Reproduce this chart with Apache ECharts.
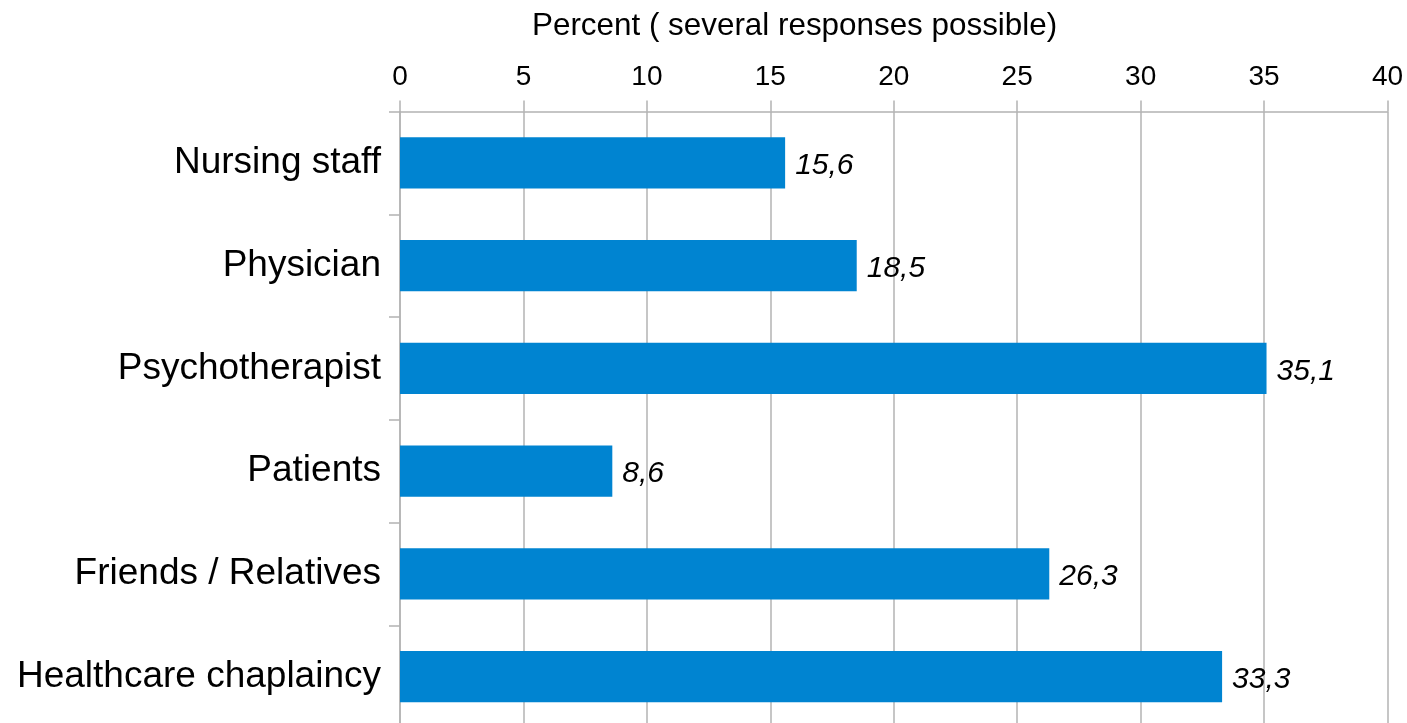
<!DOCTYPE html>
<html>
<head>
<meta charset="utf-8">
<title>Sources of support</title>
<script src="https://cdn.jsdelivr.net/npm/echarts@6/dist/echarts.min.js"></script>
<style>
  html, body { margin: 0; padding: 0; background: #ffffff; }
  #chart { width: 1407px; height: 723px; }
</style>
</head>
<body>
<div id="chart"></div>
<script>
// Who respondents turned to (percent, several responses possible)
const categories = [
  'Nursing staff',
  'Physician',
  'Psychotherapist',
  'Patients',
  'Friends / Relatives',
  'Healthcare chaplaincy'
];
const percentValues = [15.6, 18.5, 35.1, 8.6, 26.3, 33.3];
const axisTitle = 'Percent ( several responses possible)';
const axisMin = 0;
const axisMax = 40;
const axisStep = 5;

const FONT = '"Liberation Sans", Arial, sans-serif';
const GRID_GRAY = '#b3b3b3';

const chart = echarts.init(document.getElementById('chart'), null, { renderer: 'canvas' });

chart.setOption({
  backgroundColor: '#ffffff',
  animation: false,
  title: {
    text: axisTitle,
    left: 532,
    top: 11,
    padding: 0,
    textStyle: { fontFamily: FONT, fontSize: 31.4, fontWeight: 'normal', color: '#000000' }
  },
  grid: {
    left: 400,
    right: 19.5,
    top: 111.5,
    bottom: -5,
    containLabel: false,
    outerBoundsMode: 'none'
  },
  xAxis: {
    type: 'value',
    position: 'top',
    min: axisMin,
    max: axisMax,
    interval: axisStep,
    axisLine: { show: true, lineStyle: { color: GRID_GRAY, width: 1.5 } },
    axisTick: { show: true, length: 11, inside: false, lineStyle: { color: GRID_GRAY, width: 1.5 } },
    axisLabel: {
      show: true,
      margin: 20,
      fontFamily: FONT,
      fontSize: 28,
      color: '#000000'
    },
    splitLine: { show: true, lineStyle: { color: GRID_GRAY, width: 1.5 } }
  },
  yAxis: {
    type: 'category',
    data: categories,
    inverse: true,
    axisLine: { show: true, lineStyle: { color: GRID_GRAY, width: 1.5 } },
    axisTick: { show: true, length: 11, alignWithLabel: false, lineStyle: { color: GRID_GRAY, width: 1.5 } },
    axisLabel: {
      margin: 19,
      fontFamily: FONT,
      fontSize: 37,
      color: '#000000'
    },
    splitLine: { show: false }
  },
  series: [{
    type: 'bar',
    data: percentValues,
    barWidth: '50%',
    itemStyle: { color: '#0084d1' },
    label: {
      show: true,
      position: 'right',
      distance: 10,
      offset: [0, 3],
      fontFamily: FONT,
      fontSize: 30,
      fontStyle: 'italic',
      color: '#000000',
      formatter: p => p.value.toFixed(1).replace('.', ',')
    }
  }]
});
</script>
</body>
</html>
